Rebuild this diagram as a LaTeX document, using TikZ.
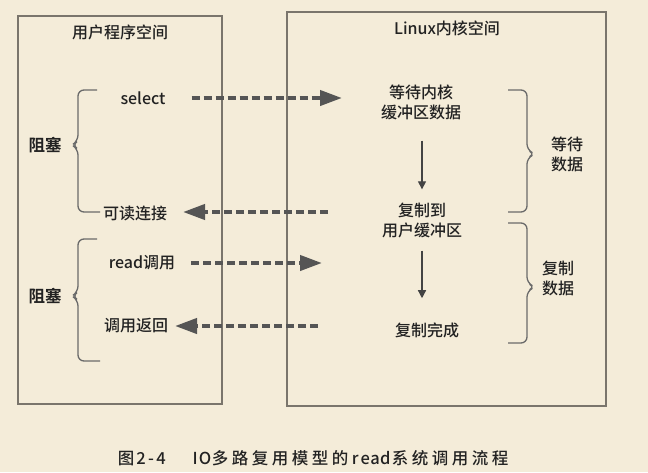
\documentclass[tikz,border=0pt]{standalone}
\usepackage{fontspec}
\setmainfont{Noto Sans CJK SC Medium}
\newfontfamily\boldcjk{Noto Sans CJK SC Bold}
\newfontfamily\capfont{Noto Sans CJK SC}
\usetikzlibrary{arrows.meta}
\definecolor{bg}{HTML}{F4ECD9}
\definecolor{boxc}{HTML}{7A756C}
\definecolor{txt}{HTML}{222222}
\definecolor{dashc}{HTML}{555555}
\definecolor{bracec}{HTML}{6A6A6A}
\newcommand\fw[1]{\makebox[20pt]{#1}}
\newcommand\hw[1]{\makebox[10pt]{#1}}
\tikzset{
  box/.style={draw=boxc, line width=1.4pt, inner sep=0pt},
  lbl/.style={text=txt, inner sep=0pt, font=\fontsize{16}{20}\selectfont, align=center},
  blbl/.style={lbl, font=\boldcjk\fontsize{16.5}{20}\selectfont},
  dasharrow/.style={draw=dashc, line width=4pt, dash pattern=on 8pt off 4pt, -{Triangle[length=22pt,width=15pt]}},
  downarrow/.style={draw=txt!85, line width=1.3pt, -{Triangle[length=8pt,width=8pt]}},
  brace/.style={draw=bracec, line width=1.3pt, rounded corners=6pt},
}
\begin{document}
\begin{tikzpicture}[x=1pt,y=-1pt]
\fill[bg] (0,0) rectangle (648,472);
\useasboundingbox (0,0) rectangle (648,472);
% boxes
\node[box, minimum width=204pt, minimum height=388pt] (user) at (120,210) {};
\node[box, minimum width=319pt, minimum height=394pt] (kern) at (446.5,209) {};
\node[lbl] (usert) at (120,32) {用户程序空间};
\node[lbl] (kernt) at (447,28) {Linux内核空间};
% left labels
\node[lbl] (select) at (143,98) {select};
\node[lbl] (readable) at (135,213) {可读连接};
\node[lbl] (readcall) at (142,263) {read调用};
\node[lbl] (ret) at (136,326) {调用返回};
\node[blbl] (block1) at (45,145) {阻塞};
\node[blbl] (block2) at (45,296) {阻塞};
% right labels
\node[lbl] (wait) at (421,102) {等待内核\\缓冲区数据};
\node[lbl] (copyto) at (422,220) {复制到\\用户缓冲区};
\node[lbl] (done) at (427,330) {复制完成};
\node[lbl] (waitdata) at (567,154) {等待\\数据};
\node[lbl] (copydata) at (558,278) {复制\\数据};
% braces
\draw[brace] (97,90) -- (78,90) -- (78,141) -- (72,145) -- (78,149) -- (78,212) -- (100,212);
\draw[brace] (97,239) -- (78,239) -- (78,292) -- (72,296) -- (78,300) -- (78,361) -- (100,361);
\draw[brace] (508,90) -- (527,90) -- (527,150) -- (535,154) -- (527,158) -- (527,212) -- (508,212);
\draw[brace] (508,223) -- (527,223) -- (527,283) -- (535,287) -- (527,291) -- (527,343) -- (508,343);
% dashed arrows
\coordinate (t1) at (342,98);
\coordinate (t2) at (183,212);
\coordinate (t3) at (322,263);
\coordinate (t4) at (175,326);
\coordinate (s2) at (328,212);
\coordinate (s4) at (318,326);
\draw[dasharrow] ([xshift=26pt]select.east) -- (t1);
\draw[dasharrow] (s2) -- (t2);
\draw[dasharrow] ([xshift=16pt]readcall.east) -- (t3);
\draw[dasharrow] (s4) -- (t4);
% down arrows
\draw[downarrow] ([yshift=-21pt]wait.south -| copyto.south) -- ([yshift=13pt]copyto.north);
\draw[downarrow] ([yshift=-13pt]copyto.south) -- ([yshift=24pt]copyto.south |- done.north);
% caption
\node[inner sep=0pt, anchor=west, text=txt, font=\fontsize{16.5}{18}\selectfont] (cap) at (116,458) {\fw{图}\hw{2}\hw{-}\hw{4}\hspace{24pt}\hw{I}\hw{O}\fw{多}\fw{路}\fw{复}\fw{用}\fw{模}\fw{型}\fw{的}\hw{r}\hw{e}\hw{a}\hw{d}\fw{系}\fw{统}\fw{调}\fw{用}\fw{流}\fw{程}};
\end{tikzpicture}
\end{document}
